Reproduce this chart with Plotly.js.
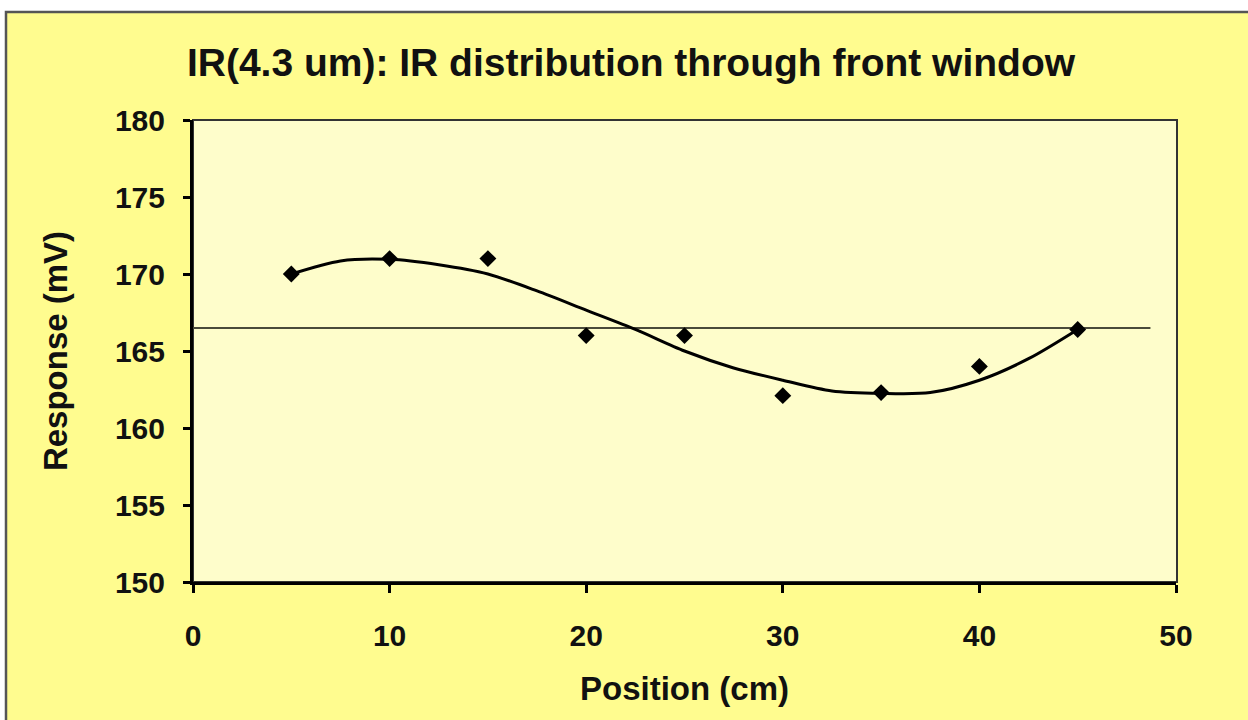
<!DOCTYPE html>
<html>
<head>
<meta charset="utf-8">
<script src="https://cdn.plot.ly/plotly-3.0.1.min.js"></script>
<style>html,body{margin:0;padding:0;background:#fff;}#chart{width:1248px;height:720px;}</style>
</head>
<body>
<div id="chart"></div>
<script>
// Measured points
const positions = [5, 10, 15, 20, 25, 30, 35, 40, 45];
const responses = [170.0, 171.0, 171.0, 166.0, 166.0, 162.1, 162.3, 164.0, 166.4];

// Trend curve
const trendX = [5, 7.5, 10, 12.5, 15, 17.5, 20, 22.5, 25, 27.5, 30, 32.5, 35, 37.5, 40, 42.5, 45];
const trendY = [170.0, 170.85, 170.95, 170.6, 170.0, 168.9, 167.65, 166.4, 165.0, 163.9, 163.1, 162.4, 162.25, 162.3, 163.1, 164.5, 166.4];

// Average line
const meanX = [0, 48.7];
const meanY = [166.5, 166.5];

const xTicks = [0, 10, 20, 30, 40, 50];
const yTicks = [150, 155, 160, 165, 170, 175, 180];

const FONT = 'Liberation Sans, Arial, sans-serif';

const traces = [
  {x: meanX, y: meanY, mode: 'lines', line: {color: '#4a4a3a', width: 2}, hoverinfo: 'skip'},
  {x: trendX, y: trendY, mode: 'lines', line: {color: '#000', width: 3, shape: 'spline', smoothing: 0.8}, hoverinfo: 'skip'},
  {x: positions, y: responses, mode: 'markers', marker: {symbol: 'diamond', size: 13, color: '#000'}}
];

const L = 193, R = 72, T = 120, B = 138;
const PW = 1248 - L - R, PH = 720 - T - B;
function px(p) { return (p - L) / PW; }
function py(p) { return (720 - B - p) / PH; }

const layout = {
  width: 1248, height: 720,
  margin: {l: L, r: R, t: T, b: B},
  paper_bgcolor: '#ffffff',
  plot_bgcolor: 'rgba(0,0,0,0)',
  showlegend: false,
  font: {family: FONT, color: '#000', weight: 'bold'},
  title: {
    text: 'IR(4.3 um): IR distribution through front window',
    font: {family: FONT, size: 39, color: '#111', weight: 'bold'},
    xref: 'container', x: 631 / 1248, xanchor: 'center',
    yref: 'container', y: 1 - 62 / 720, yanchor: 'middle'
  },
  xaxis: {
    range: [0, 50], tickvals: xTicks, ticktext: xTicks.map(String),
    showgrid: false, zeroline: false,
    showline: true, linecolor: '#000', linewidth: 3,
    ticks: 'outside', ticklen: 8, tickwidth: 3, tickcolor: '#000',
    tickfont: {family: FONT, size: 30, color: '#111', weight: 'bold'},
    ticklabelstandoff: 17,
    title: {text: 'Position (cm)', font: {family: FONT, size: 33, color: '#111', weight: 'bold'}, standoff: 26}
  },
  yaxis: {
    range: [150, 180], tickvals: yTicks, ticktext: yTicks.map(String),
    showgrid: false, zeroline: false,
    showline: true, linecolor: '#000', linewidth: 3,
    ticks: 'outside', ticklen: 7, tickwidth: 3, tickcolor: '#000',
    tickfont: {family: FONT, size: 30, color: '#111', weight: 'bold'},
    ticklabelstandoff: 12,
    title: {text: 'Response (mV)', font: {family: FONT, size: 33, color: '#111', weight: 'bold'}, standoff: 38}
  },
  shapes: [
    {type: 'rect', xref: 'paper', yref: 'paper', layer: 'below',
     x0: px(6), x1: px(1262), y0: py(735), y1: py(12),
     fillcolor: '#FFFC8F', line: {color: '#555', width: 2.5}},
    {type: 'rect', xref: 'paper', yref: 'paper', layer: 'below',
     x0: 0, x1: px(1177), y0: 0, y1: 1,
     fillcolor: '#FEFDCB', line: {color: '#333', width: 2}}
  ]
};

Plotly.newPlot('chart', traces, layout, {displayModeBar: false, staticPlot: true});
</script>
</body>
</html>
